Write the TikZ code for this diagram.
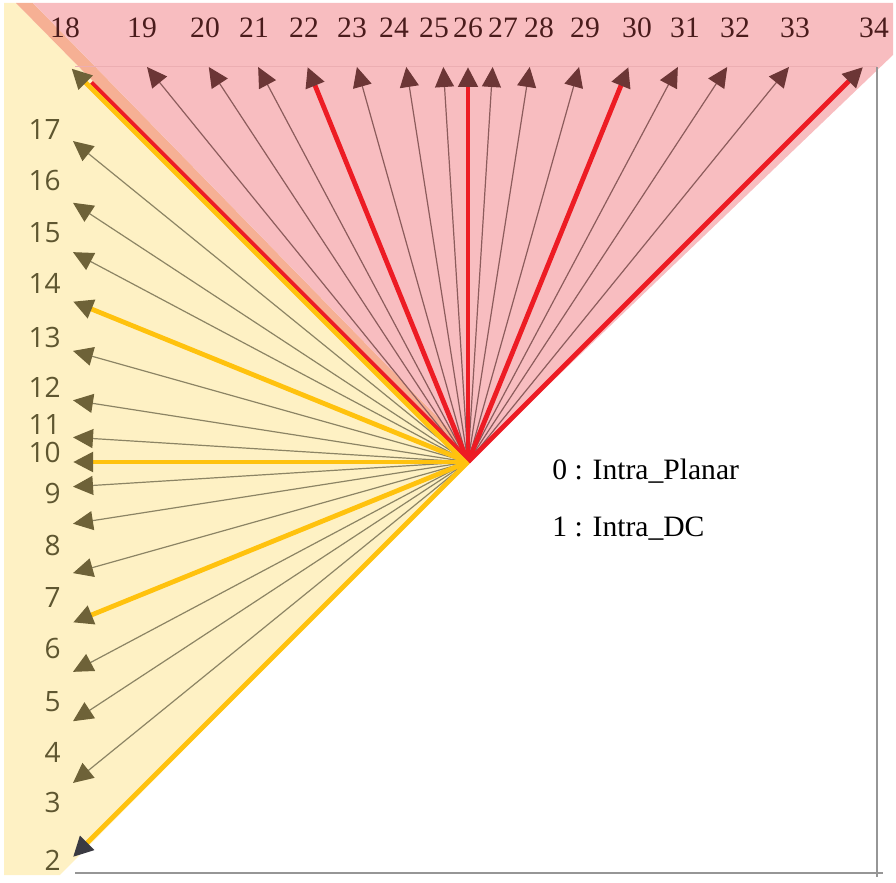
\documentclass[tikz,border=0pt]{standalone}
\usepackage{fontspec}
\setmainfont{Liberation Serif}
\newfontfamily\sidefont{Open Sans}
\usetikzlibrary{arrows.meta,positioning,calc}
\definecolor{fanyellow}{RGB}{254,241,196}
\definecolor{fanpink}{RGB}{248,189,192}
\definecolor{fanorange}{RGB}{246,176,148}
\definecolor{fanedge}{RGB}{236,174,178}
\definecolor{olivetip}{RGB}{110,98,56}
\definecolor{oliveline}{RGB}{140,132,100}
\definecolor{maroontip}{RGB}{108,54,54}
\definecolor{maroonline}{RGB}{140,92,92}
\definecolor{darktip}{RGB}{58,58,66}
\definecolor{modered}{RGB}{237,28,36}
\definecolor{modeyellow}{RGB}{255,194,14}
\definecolor{toptext}{RGB}{74,28,28}
\definecolor{sidetext}{RGB}{94,86,48}
\definecolor{framegray}{RGB}{150,150,150}

\begin{document}
\begin{tikzpicture}[x=0.5pt,y=-0.5pt,
    hmode/.style={oliveline, line width=0.6pt, -{Triangle[length=10pt,width=9.5pt,color=olivetip]}},
    vmode/.style={maroonline, line width=0.6pt, -{Triangle[length=10pt,width=9.5pt,color=maroontip]}},
    hmain/.style={modeyellow, line width=2.4pt, -{Triangle[length=10pt,width=9.5pt,color=olivetip]}},
    vmain/.style={modered, line width=2.4pt, -{Triangle[length=10pt,width=9.5pt,color=maroontip]}},
    toplabel/.style={text=toptext, font=\fontsize{14.8}{16}\selectfont, inner sep=0pt, anchor=base},
    sidelabel/.style={text=sidetext, font=\sidefont\fontsize{14}{16}\selectfont, inner sep=0pt, anchor=east},
    legend/.style={font=\fontsize{14.8}{16}\selectfont, inner sep=0pt, anchor=base west}]
  \useasboundingbox (0,0) rectangle (896,883);
  \coordinate (c) at (468,462);
  % background regions
  \fill[fanyellow] (4,3) -- (16,3) -- (c) -- (60,875) -- (4,875) -- cycle;
  \fill[fanorange] (16,3) -- (33,3) -- (460,440) -- (c) -- cycle;
  \fill[fanpink] (33,3) -- (893,3) -- (893,55) -- (c) -- (460,440) -- cycle;
  \draw[fanedge, line width=0.5pt] (75,67) -- (877,67);
  \draw[framegray, line width=0.75pt] (75,873) -- (883,873);
  \draw[framegray, line width=0.75pt] (877,67) -- (877,877);
  % mode end points
  \foreach \m/\a in {2/32,3/26,4/21,5/17,6/13,7/9,8/5,9/2,10/0,11/-2,12/-5,13/-9,14/-13,15/-17,16/-21,17/-26}
    \coordinate (m\m) at (73,{462+\a*395/32});
  \foreach \m/\a in {18/-32,19/-26,20/-21,21/-17,22/-13,23/-9,24/-5,25/-2,26/0,27/2,28/5,29/9,30/13,31/17,32/21,33/26,34/32}
    \coordinate (m\m) at ({468+\a*395/32},67);
  % thin modes
  \foreach \m in {3,4,5,7,8,9,11,12,13,15,16,17}
    \draw[hmode] (c) -- (m\m);
  \foreach \m in {19,20,21,23,24,25,27,28,29,31,32,33}
    \draw[vmode] (c) -- (m\m);
  % main modes
  \foreach \m in {22,26,30,34}
    \draw[vmain] (c) -- (m\m);
  \foreach \m in {6,10,14}
    \draw[hmain] (c) -- (m\m);
  \draw[hmain, -{Triangle[length=10pt,width=9.5pt,color=darktip]}] (c) -- (m2);
  \draw[modered, line width=2pt, shorten >=12pt] ([shift={(1.5,-1.5)}]c) -- ([shift={(1.5,-1.5)}]m18);
  \draw[hmain] ([shift={(-1.5,1.5)}]c) -- ([shift={(-1.5,1.5)}]m18);
  % labels
  \foreach \m/\x in {18/65,19/142,20/205,21/254,22/304,23/352,24/394,25/434,26/468,27/503,28/539,29/585,30/637,31/685,32/735,33/795,34/874}
    \node[toplabel] (l\m) at (\x,38) {\m};
  \foreach \m/\y in {2/860,3/802,4/752,5/702,6/648,7/598,8/545,9/493,10/452,11/425,12/387,13/337,14/283,15/233,16/180,17/130}
    \node[sidelabel] (l\m) at (61,\y) {\m};
  \node[legend] (planar) at (552,480) {0 : Intra\_Planar};
  \node[legend] (dc) at (552,536) {1 : Intra\_DC};
\end{tikzpicture}
\end{document}
